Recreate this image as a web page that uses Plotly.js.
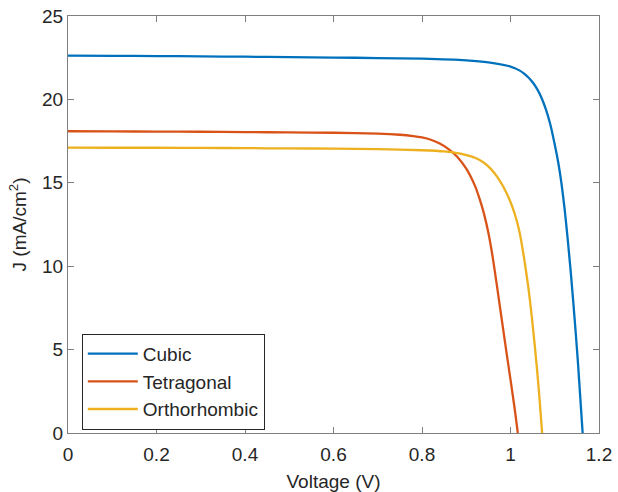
<!DOCTYPE html>
<html>
<head>
<meta charset="utf-8">
<script src="https://cdn.plot.ly/plotly-3.0.1.min.js"></script>
<style>html,body{margin:0;padding:0;background:#fff;}#chart{width:618px;height:492px;}</style>
</head>
<body>
<div id="chart"></div>
<script>
// Series names
const seriesNames = ["Cubic", "Tetragonal", "Orthorhombic"];

// Cubic J–V data (V, mA/cm^2)
const cubicV = [0, 0.1, 0.2, 0.3, 0.4, 0.5, 0.6, 0.7, 0.8, 0.9, 0.95, 1.0, 1.01, 1.02, 1.03, 1.04, 1.05, 1.06, 1.07, 1.08, 1.09, 1.10, 1.108, 1.115, 1.122, 1.129, 1.136, 1.142, 1.148, 1.153, 1.158, 1.163];
const cubicJ = [22.62, 22.61, 22.60, 22.58, 22.56, 22.53, 22.51, 22.48, 22.44, 22.34, 22.22, 21.97, 21.87, 21.74, 21.56, 21.33, 21.03, 20.63, 20.1, 19.4, 18.5, 17.3, 16.2, 15.0, 13.5, 11.7, 9.7, 7.8, 5.8, 4.0, 2.0, 0];

// Tetragonal J–V data
const tetraV = [0, 0.1, 0.2, 0.3, 0.4, 0.5, 0.6, 0.7, 0.75, 0.78, 0.8, 0.82, 0.84, 0.86, 0.88, 0.9, 0.92, 0.93, 0.94, 0.95, 0.96, 0.97, 0.98, 0.99, 1.0, 1.01, 1.0165];
const tetraJ = [18.09, 18.08, 18.07, 18.06, 18.04, 18.02, 18.0, 17.95, 17.88, 17.8, 17.72, 17.58, 17.35, 17.02, 16.55, 15.85, 14.8, 14.05, 13.15, 12.0, 10.5, 8.7, 6.85, 5.0, 3.2, 1.35, 0];

// Orthorhombic J–V data
const orthoV = [0, 0.1, 0.2, 0.3, 0.4, 0.5, 0.6, 0.7, 0.8, 0.85, 0.88, 0.9, 0.92, 0.94, 0.955, 0.97, 0.985, 1.0, 1.01, 1.02, 1.03, 1.04, 1.048, 1.055, 1.061, 1.066, 1.0715];
const orthoJ = [17.11, 17.10, 17.10, 17.09, 17.08, 17.06, 17.05, 17.02, 16.95, 16.88, 16.78, 16.66, 16.5, 16.2, 15.85, 15.35, 14.7, 13.85, 13.1, 12.1, 10.6, 8.8, 7.0, 5.2, 3.5, 1.9, 0];

// Axis ticks
const xTicks = [0, 0.2, 0.4, 0.6, 0.8, 1, 1.2];
const xTickText = ["0", "0.2", "0.4", "0.6", "0.8", "1", "1.2"];
const yTicks = [0, 5, 10, 15, 20, 25];

const colors = ["#0072BD", "#D95319", "#EDB120"];
const font = "Liberation Sans, Arial, Helvetica, sans-serif";
const axisCol = "#7f7f7f";
const textCol = "#262626";
const fs = 19;

const xs = [cubicV, tetraV, orthoV];
const ys = [cubicJ, tetraJ, orthoJ];
const traces = seriesNames.map((n, i) => ({
  x: xs[i], y: ys[i], name: n, type: "scatter", mode: "lines",
  line: {color: colors[i], width: 2.3, shape: "spline", smoothing: 0.5},
  hoverinfo: "x+y+name"
}));

const axisBase = {
  showgrid: false, zeroline: false, showline: true, linecolor: axisCol, linewidth: 1,
  mirror: "ticks", ticks: "inside", ticklen: 6, tickcolor: axisCol, tickwidth: 1,
  tickfont: {family: font, size: fs, color: textCol}
};

const layout = {
  width: 618, height: 492,
  margin: {l: 68, r: 19, t: 16, b: 59},
  paper_bgcolor: "#fff", plot_bgcolor: "#fff",
  showlegend: true,
  legend: {
    x: 0.026, y: 0.238, xanchor: "left", yanchor: "top",
    bgcolor: "#fff", bordercolor: "#262626", borderwidth: 1,
    font: {family: font, size: fs, color: textCol},
    itemwidth: 50, tracegroupgap: 0
  },
  xaxis: Object.assign({}, axisBase, {
    range: [0, 1.2], tickvals: xTicks, ticktext: xTickText, ticklabelstandoff: 4,
    title: {text: "Voltage (V)", font: {family: font, size: fs, color: textCol}, standoff: 10}
  }),
  yaxis: Object.assign({}, axisBase, {
    range: [0, 25], tickvals: yTicks,
    title: {text: "J (mA/cm<sup>2</sup>)", font: {family: font, size: fs, color: textCol}, standoff: 10}
  })
};

Plotly.newPlot("chart", traces, layout, {displayModeBar: false, staticPlot: true});
</script>
</body>
</html>
